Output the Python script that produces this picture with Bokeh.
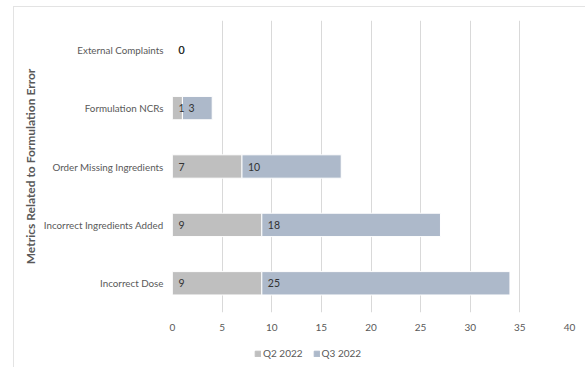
from bokeh.plotting import figure
from bokeh.layouts import column
from bokeh.models import ColumnDataSource, FactorRange, Legend, LegendItem, Range1d, FixedTicker
from bokeh.core.properties import value
from bokeh.embed import file_html
from bokeh.resources import INLINE

categories = ["Incorrect Dose", "Incorrect Ingredients Added", "Order Missing Ingredients",
              "Formulation NCRs", "External Complaints"]
q2_2022 = [9, 9, 7, 1, 0]
q3_2022 = [25, 18, 10, 3, 0]
series = ["Q2 2022", "Q3 2022"]
x_ticks = [0, 5, 10, 15, 20, 25, 30, 35, 40]

FONT = "Lato"
colors = ["#BFBFBF", "#ADB9CA"]

src = ColumnDataSource(dict(cat=categories, q2=q2_2022, q3=q3_2022,
                            q2_txt=[str(v) for v in q2_2022],
                            q3_txt=[str(v) for v in q3_2022]))

p = figure(width=571, height=333, y_range=FactorRange(*categories),
           x_range=Range1d(0, 40), output_backend="svg", toolbar_location=None,
           min_border_left=158, min_border_right=16, min_border_top=13, min_border_bottom=28)

rs = p.hbar_stack(["q2", "q3"], y="cat", height=0.4, color=colors, line_color="white",
                  line_width=1, source=src)

p.text(x=0, y="cat", text="q2_txt", source=src, x_offset=6, text_align="left",
       text_baseline="middle", text_font=value(FONT), text_font_size="10.5px", text_color="#333333")
p.text(x="q2", y="cat", text="q3_txt", source=src, x_offset=6, text_align="left",
       text_baseline="middle", text_font=value(FONT), text_font_size="10.5px", text_color="#333333")

p.xaxis.ticker = FixedTicker(ticks=x_ticks)
p.xgrid.grid_line_color = "#D9D9D9"
p.xgrid.grid_line_width = 1
p.ygrid.grid_line_color = None
p.outline_line_color = None

for ax in (p.xaxis, p.yaxis):
    ax.axis_line_color = None
    ax.major_tick_line_color = None
    ax.minor_tick_line_color = None
    ax.major_label_text_font = FONT
    ax.major_label_text_font_size = "10px"
    ax.major_label_text_color = "#595959"

p.yaxis.major_label_text_font_size = "9.8px"
p.yaxis.major_tick_out = 0
p.yaxis.major_tick_in = 0
p.xaxis.major_label_standoff = 5
p.yaxis.major_label_standoff = 9
p.yaxis.axis_label = "Metrics Related to Formulation Error"
p.yaxis.axis_label_text_font = FONT
p.yaxis.axis_label_text_font_size = "12px"
p.yaxis.axis_label_text_font_style = "bold"
p.yaxis.axis_label_text_color = "#595959"
p.yaxis.axis_label_standoff = 3

# legend strip below the chart (placeholder renderers only provide the swatch colours)
pl = figure(width=571, height=27, x_range=Range1d(0, 1), y_range=Range1d(0, 1),
            output_backend="svg", toolbar_location=None, min_border=0)
pl.axis.visible = False
pl.grid.visible = False
pl.outline_line_color = None
lr = [pl.hbar(y=[-5], left=[0], right=[0], height=0.1, color=c) for c in colors]
legend = Legend(items=[LegendItem(label=s, renderers=[r]) for s, r in zip(series, lr)],
                orientation="horizontal", location=(82, 8),
                label_text_font=FONT, label_text_font_size="10px", label_text_color="#595959",
                glyph_width=7, glyph_height=7, label_height=12, label_standoff=2, spacing=10,
                padding=0, margin=0, border_line_color=None, background_fill_alpha=0)
pl.add_layout(legend, "center")

layout = column(p, pl, spacing=0,
                styles={"margin-left": "13px", "margin-top": "6px",
                        "border-left": "1px solid #E3E3E3", "border-top": "1px solid #E3E3E3"})

open("out.html", "w").write(file_html(layout, INLINE))
